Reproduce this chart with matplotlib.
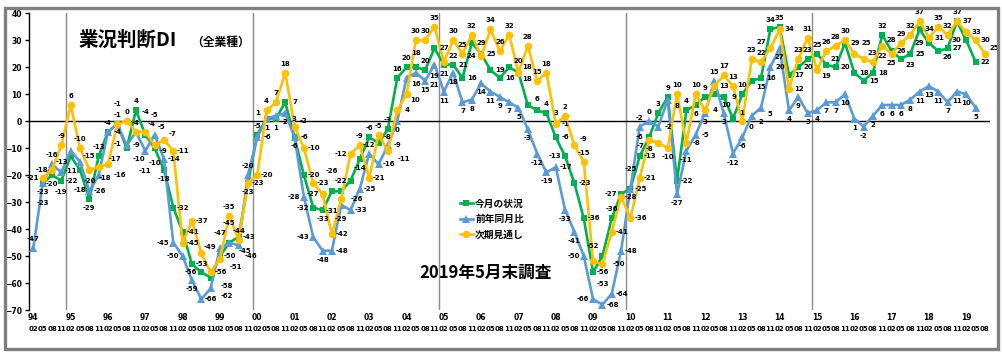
import numpy as np
import matplotlib
matplotlib.use('Agg')
import matplotlib.pyplot as plt
from matplotlib.patches import Rectangle
from matplotlib.lines import Line2D

plt.rcParams['font.family'] = ['Noto Sans CJK JP', 'DejaVu Sans']

# quarterly survey points, 1994/02 .. 2019/08
years = ['94', '95', '96', '97', '98', '99', '00', '01', '02', '03', '04', '05', '06',
         '07', '08', '09', '10', '11', '12', '13', '14', '15', '16', '17', '18', '19']
months = ['02', '05', '08', '11']

# 今月の状況
current = [None, -23, -20, -22,  -13, -18, -29, -13,  -4, -1, -10, 4,  -5, -10, -18, -32,
           -41, -53, -56, -58,  -50, -45, -43, -23,  -5, 1, 1, 7,  -6, -20, -32, -33,
           -26, -26, -22, -14,  -6, -8, -3, 16,  20, 20, 19, 27,  21, 21, 16, 29,
           25, 19, 16, 20,  18, 6, 4, 3,  -6, -13, -23, -36,  -56, -50, -36, -27,
           -25, -13, -6, 3,  9, -22, 4, 6,  9, 10, 9, 1,  10, 15, 16, 34,
           35, 17, 20, 23,  25, 21, 20, 29,  18, 15, 18, 32,  26, 23, 25, 34,
           29, 26, 27, 37,  30, 22, None]
# 前年同月比
yoy = [-47, -23, -16, -19,  -11, -15, -26, -20,  -4, -1, -9, -4,  -11, -5, -14, -45,
       -50, -59, -66, -62,  -47, -45, -46, -20,  -6, 1, 2, 3,  -6, -28, -43, -48,
       -48, -31, -33, -25,  -12, -16, -9, 0,  16, 18, 15, 21,  11, 18, 7, 8,
       14, 11, 9, 7,  5, -3, -12, -19,  -17, -33, -41, -50,  -66, -68, -64, -48,
       -25, -2, 0, -2,  8, -27, -11, -5,  3, 15, 3, -12,  -6, 2, 5, 20,
       27, 4, 9, 3,  4, 7, 7, 10,  1, -2, 2, 6,  6, 6, 8, 11,
       13, 11, 7, 11,  10, 5, None]
# 次期見通し
outlook = [None, -21, -18, -9,  6, -10, -18, -17,  -16, -1, 0, -4,  -4, -9, -7, -11,
           -45, -37, -49, -56,  -51, -35, -44, -23,  -20, 4, 7, 18,  -2, -10, -23, -27,
           -42, -29, -12, -9,  -21, -5, -11, 4,  10, 30, 30, 35,  22, 30, 25, 32,
           24, 34, 26, 32,  18, 28, 15, 18,  -1, 2, -9, -15,  -52, -53, -41, -28,
           -36, -21, -7, -8,  -10, 10, -8, 10,  4, 13, 17, 13,  0, 23, 22, 27,
           34, 12, 23, 31,  19, 26, 28, 30,  25, 23, 22, 28,  25, 29, 32, 37,
           31, 35, 32, 37,  33, 30, 25]

series = [
    ('今月の状況', current, '#00B050', 's', 4.6),
    ('前年同月比', yoy, '#5B9BD5', '^', 5.2),
    ('次期見通し', outlook, '#FFC000', 'o', 5.4),
]

n = len(current)
x = np.arange(n)
vals = np.array([[np.nan if a is None else a for a in s[1]] for s in series], dtype=float)

fig = plt.figure(figsize=(10.03, 3.56), dpi=100)
ax = fig.add_axes([0.0286, 0.1292, 0.958, 0.8334])

ax.set_xlim(-0.5, n - 0.5)
ax.set_ylim(-70, 40)

# year separators every 5 years
for k in range(4, n, 20):
    ax.axvline(k - 0.5, color='#8c8c8c', lw=1.0, zorder=0)
ax.axhline(0, color='black', lw=1.0, zorder=0.5)

for z, (name, _, col, mk, ms) in enumerate(series):
    ax.plot(x, vals[z], color=col, lw=1.9, marker=mk, ms=ms, label=name,
            zorder=2 + z, markeredgewidth=0)

# data labels, placed greedily so they do not sit on each other
fig.canvas.draw()
tr = ax.transData
ybot = ax.transAxes.transform((0, 0))[1]
placed = []
points = []
for k in range(3):
    for i in x:
        if not np.isnan(vals[k, i]):
            points.append(tr.transform((i, vals[k, i])))


def overlap(box):
    x0, y0, x1, y1 = box
    tot = 0.0
    if y0 < ybot:
        tot += 1000.0
    for b in placed:
        w = min(x1, b[2]) - max(x0, b[0])
        h = min(y1, b[3]) - max(y0, b[1])
        if w > 0 and h > 0:
            tot += w * h
    for px, py in points:
        w = min(x1, px + 3) - max(x0, px - 3)
        h = min(y1, py + 3) - max(y0, py - 3)
        if w > 0 and h > 0:
            tot += 0.5 * w * h
    return tot


extra = [(0, 20), (0, -20), (16, 8), (-16, 8), (16, -8), (-16, -8)]
up = [(0, 9), (9, 6), (-9, 6), (10, 0), (-10, 0), (0, 15), (12, 11), (-12, 11)] + extra
down = [(0, -9), (9, -6), (-9, -6), (10, 0), (-10, 0), (0, -15), (12, -11), (-12, -11)] + extra
side = [(10, 0), (-10, 0), (9, 6), (9, -6), (-9, 6), (-9, -6), (0, 9), (0, -9),
        (14, 0), (-14, 0)] + extra

for i in x:
    col = vals[:, i]
    idx = [k for k in range(3) if not np.isnan(col[k])]
    order = sorted(idx, key=lambda k: col[k])
    for r, k in sorted(enumerate(order), key=lambda t: -t[0]):
        if r == len(order) - 1:
            cands = up
        elif r == 0:
            cands = down
        else:
            cands = side
        txt = '%d' % col[k]
        w = 3.6 * len(txt) + 2
        h = 7.2
        px, py = tr.transform((i, col[k]))
        best, best_ov = None, None
        for dx, dy in cands:
            box = (px + dx - w / 2, py + dy - h / 2, px + dx + w / 2, py + dy + h / 2)
            ov = overlap(box)
            if best_ov is None or ov < best_ov - 1e-9:
                best, best_ov = (dx, dy, box), ov
            if ov == 0:
                break
        dx, dy, box = best
        placed.append(box)
        ax.annotate(txt, (i, col[k]), xytext=(dx * 0.72, dy * 0.72),
                    textcoords='offset points', ha='center', va='center',
                    fontsize=5, fontweight='bold', family='DejaVu Sans', zorder=6)

# axes styling
for s in ['top', 'right', 'bottom']:
    ax.spines[s].set_visible(False)
ax.spines['left'].set_linewidth(1.0)
ax.set_yticks(range(-70, 41, 10))
ax.tick_params(axis='y', labelsize=5.5, length=3, width=1, pad=2)
for t in ax.get_yticklabels():
    t.set_fontweight('bold')
    t.set_family('DejaVu Sans')
ax.set_xticks([])

for i in range(n):
    yr, mo = years[i // 4], months[i % 4]
    ax.text(i, -0.064, mo, transform=ax.get_xaxis_transform(), ha='center', va='center',
            fontsize=5, fontweight='bold', family='DejaVu Sans')
    if i % 4 == 0:
        ax.text(i, -0.024, yr, transform=ax.get_xaxis_transform(), ha='center',
                va='center', fontsize=5.5, fontweight='bold', family='DejaVu Sans')

# titles
fig.text(0.078, 0.887, '業況判断DI', fontsize=14, fontweight='bold', va='center', ha='left')
fig.text(0.191, 0.880, '（全業種）', fontsize=8.5, fontweight='bold', va='center', ha='left')
ax.text(0.475, 0.125, '2019年5月末調査', transform=ax.transAxes, fontsize=12,
        fontweight='bold', ha='center', va='center')

handles = [Line2D([0], [0], color=c, lw=1.9, marker=m, ms=ms, markeredgewidth=0)
           for _, _, c, m, ms in series]
ax.legend(handles, [s[0] for s in series], loc='center', bbox_to_anchor=(0.482, 0.307),
          frameon=False, prop={'size': 7, 'weight': 'bold'}, handlelength=1.4,
          handletextpad=0.2, labelspacing=0.55)

# outer frame
fig.patches.append(Rectangle((0.0045, 0.021), 0.9905, 0.956, transform=fig.transFigure,
                             fill=False, edgecolor='#808080', lw=2.4))

fig.savefig('out.png', dpi=100)
